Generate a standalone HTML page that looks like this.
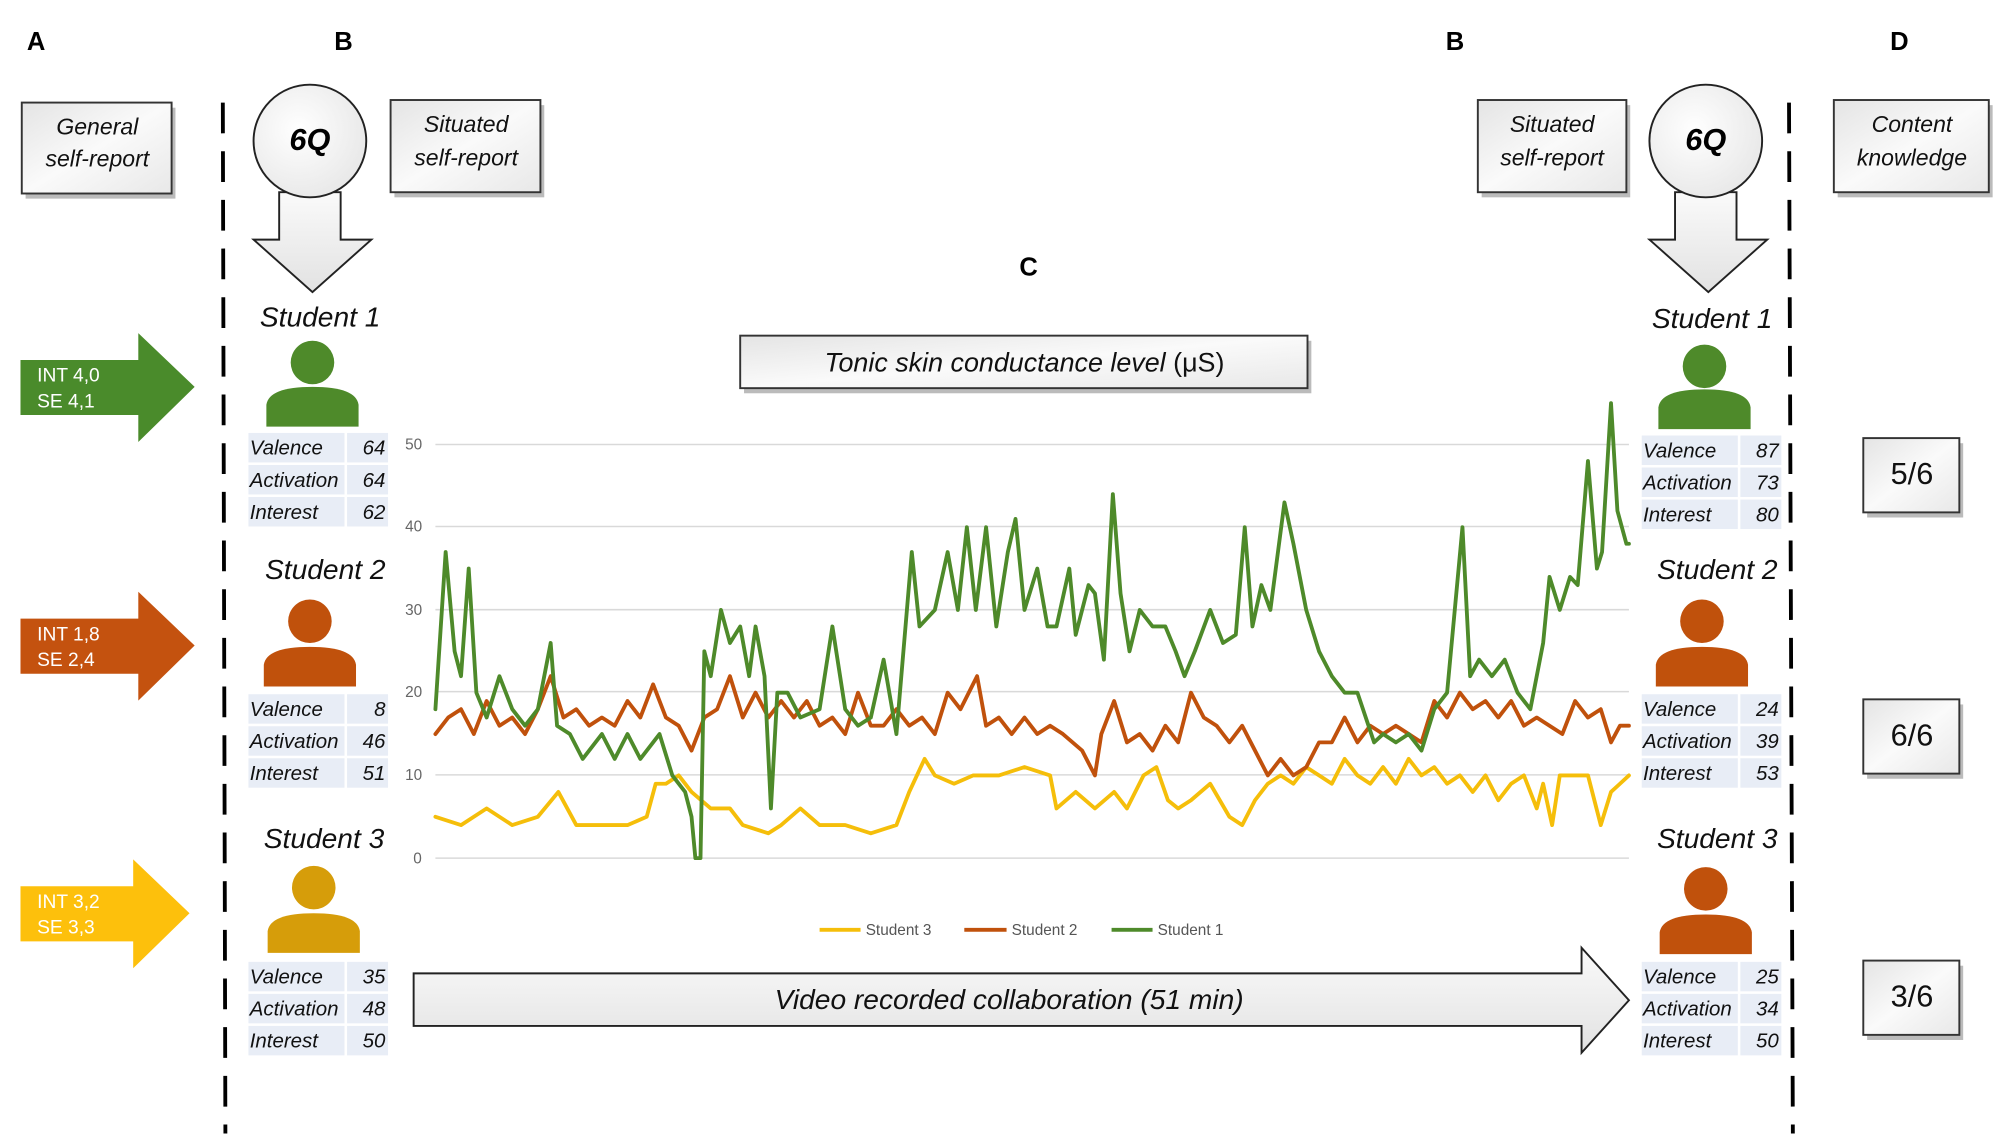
<!DOCTYPE html>
<html><head><meta charset="utf-8"><style>
html,body{margin:0;padding:0;background:#fff;width:2008px;height:1140px;overflow:hidden}
svg{display:block}
text{font-family:"Liberation Sans",sans-serif}
.it{font-style:italic}
</style></head><body>
<svg id="s" width="2008" height="1140" viewBox="0 0 1568 890" xmlns="http://www.w3.org/2000/svg">
<defs>
<linearGradient id="bx" x1="0" y1="0" x2="1" y2="1"><stop offset="0" stop-color="#e4e4e4"/><stop offset="0.5" stop-color="#fafafa"/><stop offset="1" stop-color="#e8e8e8"/></linearGradient>
<radialGradient id="cg" cx="0.4" cy="0.4" r="0.7"><stop offset="0" stop-color="#fff"/><stop offset="1" stop-color="#e6e6e6"/></radialGradient>
<linearGradient id="ag" x1="0" y1="0" x2="0" y2="1"><stop offset="0" stop-color="#fafafa"/><stop offset="1" stop-color="#e2e2e2"/></linearGradient>
</defs>
<g font-weight="bold" font-size="20" fill="#000">
<text x="21" y="39">A</text><text x="261" y="39">B</text><text x="1129" y="39">B</text><text x="1476" y="39">D</text><text x="796" y="215">C</text>
</g>
<line x1="174" y1="80" x2="176" y2="885" stroke="#000" stroke-width="3" stroke-dasharray="24,14"/>
<line x1="1397" y1="80" x2="1400" y2="885" stroke="#000" stroke-width="3" stroke-dasharray="24,14"/>
<g fill="#bbb">
<rect x="20" y="84" width="117" height="71"/><rect x="308" y="82" width="117" height="72"/><rect x="1157" y="82" width="116" height="72"/><rect x="1435" y="82" width="121" height="72"/>
<rect x="1458" y="346" width="75" height="58"/><rect x="1458" y="550" width="75" height="58"/><rect x="1458" y="754" width="75" height="58"/><rect x="581" y="266" width="443" height="41"/>
</g>
<g stroke="#333" stroke-width="1.5" fill="url(#bx)">
<rect x="17" y="80" width="117" height="71"/>
<rect x="305" y="78" width="117" height="72"/>
<rect x="1154" y="78" width="116" height="72"/>
<rect x="1432" y="78" width="121" height="72"/>
<rect x="1455" y="342" width="75" height="58"/>
<rect x="1455" y="546" width="75" height="58"/>
<rect x="1455" y="750" width="75" height="58"/>
<rect x="578" y="262" width="443" height="41"/>
</g>
<g class="it" font-size="18" text-anchor="middle" fill="#111">
<text x="76" y="105">General</text><text x="76" y="130">self-report</text>
<text x="364" y="103">Situated</text><text x="364" y="129">self-report</text>
<text x="1212" y="103">Situated</text><text x="1212" y="129">self-report</text>
<text x="1493" y="103">Content</text><text x="1493" y="129">knowledge</text>
</g>
<g font-size="24" text-anchor="middle" fill="#111">
<text x="1493" y="378">5/6</text><text x="1493" y="582">6/6</text><text x="1493" y="786">3/6</text>
</g>
<text x="800" y="290" font-size="21" text-anchor="middle" fill="#111"><tspan font-style="italic">Tonic skin conductance level</tspan> (μS)</text>
<g stroke="#222" stroke-width="1.5">
<path d="M218,150 L266,150 L266,187 L290,187 L244,228 L198,187 L218,187 Z" fill="url(#ag)"/>
<circle cx="242" cy="110" r="44" fill="url(#cg)"/>
<path d="M1308,150 L1356,150 L1356,187 L1380,187 L1334,228 L1288,187 L1308,187 Z" fill="url(#ag)"/>
<circle cx="1332" cy="110" r="44" fill="url(#cg)"/>
</g>
<g font-size="24" font-weight="bold" font-style="italic" text-anchor="middle"><text x="242" y="117">6Q</text><text x="1332" y="117">6Q</text></g>
<path d="M16,281 L108,281 L108,260 L152,302 L108,345 L108,324 L16,324Z" fill="#4a8b2b"/>
<path d="M16,483 L108,483 L108,462 L152,504 L108,547 L108,526 L16,526Z" fill="#c4520f"/>
<path d="M16,692 L104,692 L104,671 L148,713 L104,756 L104,735 L16,735Z" fill="#fdc00c"/>
<g font-size="15" fill="#fff"><text x="29" y="298">INT 4,0</text><text x="29" y="318">SE 4,1</text>
<text x="29" y="500">INT 1,8</text><text x="29" y="520">SE 2,4</text>
<text x="29" y="709">INT 3,2</text><text x="29" y="729">SE 3,3</text></g>
<g class="it" font-size="22" text-anchor="middle" fill="#111">
<text x="250" y="255">Student 1</text><text x="254" y="452">Student 2</text><text x="253" y="662">Student 3</text>
<text x="1337" y="256">Student 1</text><text x="1341" y="452">Student 2</text><text x="1341" y="662">Student 3</text>
</g>
<g id="icons"></g>
<g id="tables"></g>
<g stroke="#d9d9d9" stroke-width="1.2">
<line x1="340" y1="347" x2="1272" y2="347"/><line x1="340" y1="411" x2="1272" y2="411"/><line x1="340" y1="476" x2="1272" y2="476"/>
<line x1="340" y1="540" x2="1272" y2="540"/><line x1="340" y1="605" x2="1272" y2="605"/><line x1="340" y1="670" x2="1272" y2="670"/>
</g>
<g font-size="12" fill="#666" text-anchor="middle">
<text x="323" y="351">50</text><text x="323" y="415">40</text><text x="323" y="480">30</text><text x="323" y="544">20</text><text x="323" y="609">10</text><text x="326" y="674">0</text>
</g>
<g id="series" fill="none" stroke-width="3" stroke-linejoin="round" stroke-linecap="round"></g>
<g font-size="12" fill="#555">
<line x1="640" y1="726" x2="672" y2="726" stroke="#f5be0a" stroke-width="3"/><text x="676" y="730">Student 3</text>
<line x1="753" y1="726" x2="786" y2="726" stroke="#c0510c" stroke-width="3"/><text x="790" y="730">Student 2</text>
<line x1="868" y1="726" x2="900" y2="726" stroke="#4e8a2a" stroke-width="3"/><text x="904" y="730">Student 1</text>
</g>
<path d="M323,760 L1235,760 L1235,740 L1272,781 L1235,822 L1235,801 L323,801Z" fill="url(#ag)" stroke="#222" stroke-width="1.5"/>
<text x="788" y="788" class="it" font-size="22" text-anchor="middle" fill="#111">Video recorded collaboration (51 min)</text>
</svg>
<script>
var NS="http://www.w3.org/2000/svg";
function el(p,t,a,txt){var e=document.createElementNS(NS,t);for(var k in a)e.setAttribute(k,a[k]);if(txt!=null)e.textContent=txt;document.getElementById(p).appendChild(e);}
function icon(cx,hy,by,col){el("icons","circle",{cx:cx,cy:hy,r:17,fill:col});
el("icons","path",{d:"M"+(cx-36)+","+(by+31)+" L"+(cx-36)+","+(by+14)+" Q"+(cx-34)+","+by+" "+cx+","+by+" Q"+(cx+34)+","+by+" "+(cx+36)+","+(by+14)+" L"+(cx+36)+","+(by+31)+"Z",fill:col});}
icon(244,283,302,"#4e8a2a");icon(242,485,505,"#c0510c");icon(245,693,713,"#d69d0a");
icon(1331,286,304,"#4e8a2a");icon(1329,485,505,"#c0510c");icon(1332,694,714,"#c0510c");
function table(x,y,vals){var L=["Valence","Activation","Interest"];for(var i=0;i<3;i++){var yy=y+i*25;
el("tables","rect",{x:x,y:yy,width:75,height:23,fill:"#e8edf6"});el("tables","rect",{x:x+77,y:yy,width:32,height:23,fill:"#e8edf6"});
el("tables","text",{x:x+1,y:yy+17,"font-size":16,"font-style":"italic",fill:"#111"},L[i]);
el("tables","text",{x:x+107,y:yy+17,"font-size":16,"font-style":"italic",fill:"#111","text-anchor":"end"},vals[i]);}}
table(194,338,[64,64,62]);table(194,542,[8,46,51]);table(194,751,[35,48,50]);
table(1282,340,[87,73,80]);table(1282,542,[24,39,53]);table(1282,751,[25,34,50]);
function Y(v){return 670-v*6.46;}
function line(d,c){var pts=[];for(var i=0;i<d.length;i+=2)pts.push(d[i]+","+Y(d[i+1]).toFixed(1));el("series","polyline",{points:pts.join(" "),stroke:c});}
var yel=[340,5,360,4,380,6,400,4,420,5,436,8,450,4,470,4,490,4,505,5,512,9,520,9,530,10,540,8,555,6,570,6,580,4,600,3,610,4,625,6,640,4,660,4,680,3,700,4,710,8,722,12,730,10,745,9,760,10,780,10,800,11,820,10,825,6,840,8,855,6,870,8,880,6,893,10,903,11,912,7,920,6,930,7,945,9,960,5,970,4,980,7,990,9,1000,10,1010,9,1020,11,1030,10,1040,9,1050,12,1060,10,1070,9,1080,11,1090,9,1100,12,1110,10,1120,11,1130,9,1140,10,1150,8,1160,10,1170,7,1180,9,1190,10,1200,6,1205,9,1212,4,1218,10,1225,10,1240,10,1250,4,1258,8,1265,9,1272,10];
var org=[340,15,350,17,360,18,370,15,380,19,390,16,400,17,410,15,420,18,430,22,440,17,450,18,460,16,470,17,480,16,490,19,500,17,510,21,520,17,530,16,540,13,550,17,560,18,570,22,580,17,590,20,600,17,610,19,620,17,630,19,640,16,650,17,660,15,670,20,680,16,690,16,700,18,710,16,720,17,730,15,740,20,750,18,763,22,770,16,780,17,790,15,800,17,810,15,820,16,830,15,845,13,855,10,860,15,870,19,880,14,890,15,900,13,910,16,920,14,930,20,940,17,950,16,960,14,970,16,980,13,990,10,1000,12,1010,10,1020,11,1030,14,1040,14,1050,17,1060,14,1070,16,1080,15,1090,16,1100,15,1110,14,1120,19,1130,17,1140,20,1150,18,1160,19,1170,17,1180,19,1190,16,1200,17,1210,16,1220,15,1230,19,1240,17,1250,18,1258,14,1265,16,1272,16];
var grn=[340,18,348,37,355,25,360,22,366,35,372,20,380,17,390,22,400,18,410,16,420,18,430,26,435,16,445,15,455,12,470,15,480,12,490,15,500,12,515,15,525,10,535,8,540,5,543,0,547,0,550,25,555,22,563,30,570,26,578,28,585,22,590,28,597,22,602,6,607,20,615,20,625,17,640,18,650,28,660,18,670,16,680,17,690,24,700,15,712,37,718,28,730,30,740,37,748,30,755,40,762,30,770,40,778,28,787,37,793,41,800,30,810,35,818,28,825,28,835,35,840,27,850,33,855,32,862,24,869,44,875,32,882,25,890,30,900,28,910,28,918,25,925,22,933,25,945,30,955,26,965,27,972,40,978,28,985,33,992,30,1003,43,1010,38,1020,30,1030,25,1040,22,1050,20,1060,20,1073,14,1080,15,1090,14,1100,15,1110,13,1120,18,1130,20,1142,40,1148,22,1155,24,1165,22,1175,24,1185,20,1195,18,1205,26,1210,34,1218,30,1226,34,1232,33,1240,48,1247,35,1251,37,1258,55,1263,42,1270,38,1272,38];
line(yel,"#f5be0a");line(org,"#c0510c");line(grn,"#4e8a2a");
</script>
</body></html>
